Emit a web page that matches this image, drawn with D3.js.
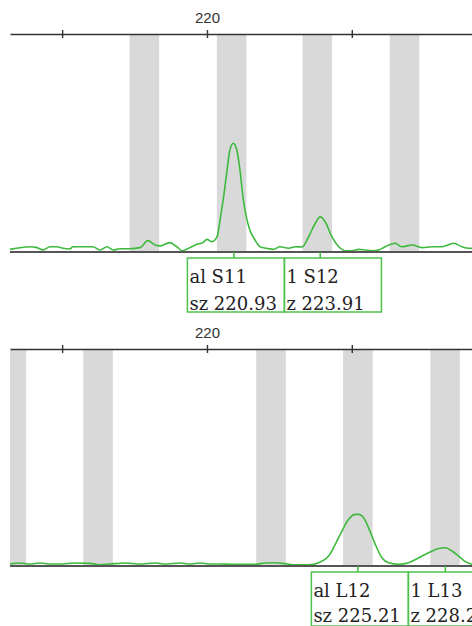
<!DOCTYPE html>
<html>
<head>
<meta charset="utf-8">
<script src="https://cdn.jsdelivr.net/npm/d3@7"></script>
<style>
  body { margin: 0; background: #fff; }
  svg { display: block; }
  .tick text { font-family: "Liberation Sans", Arial, sans-serif; }
</style>
</head>
<body>
<div id="chart"></div>
<script>
// Size axis (bp) - same for both panels
var xTicks = [215, 220, 225];
var xTickLabels = ["", "220", ""];

// Top panel: allele bins, trace, called peaks
var binsTop = [217.84, 220.85, 223.81, 226.82];
var traceTopBp = [213.20, 213.89, 214.13, 214.34, 214.58, 214.82, 215.03, 215.27, 215.37, 215.72,
  216.06, 216.31, 216.55, 216.76, 217.00, 217.34, 217.69, 217.96, 218.21, 218.38,
  218.72, 218.96, 219.14, 219.41, 219.65, 219.86, 220.00, 220.17, 220.35, 220.41,
  220.48, 220.56, 220.68, 220.79, 220.91, 221.03, 221.14, 221.25, 221.37, 221.48,
  221.66, 221.83, 222.06, 222.29, 222.52, 222.82, 223.05, 223.28, 223.51, 223.74,
  223.91, 224.08, 224.31, 224.55, 224.77, 225.01, 225.24, 225.46, 225.70, 225.93,
  226.15, 226.50, 226.73, 227.08, 227.42, 227.77, 228.11, 228.52, 228.80, 229.03, 229.15];
var traceTopRfu = [12, 24, 20, 9, 24, 24, 17, 14, 24, 24,
  24, 9, 24, 9, 15, 15, 20, 52, 32, 28,
  43, 24, 6, 20, 35, 43, 58, 47, 70, 110,
  170, 239, 361, 468, 499, 468, 376, 245, 154, 101,
  55, 24, 17, 12, 24, 17, 24, 23, 70, 132,
  161, 139, 70, 24, 6, 6, 12, 9, 6, 9,
  24, 40, 24, 32, 20, 24, 24, 40, 24, 17, 17];
var peaksTop = [220.93, 223.91];
var alleleTop = ["al S11", "1 S12"];
var sizeTop = ["sz 220.93", "z 223.91"];

// Bottom panel
var binsBottom = [213.25, 216.24, 222.21, 225.21, 228.22];
var traceBottomBp = [213.20, 213.54, 213.89, 214.24, 214.58, 214.93, 215.44, 215.96, 216.31, 216.65,
  217.17, 217.69, 218.21, 218.55, 219.07, 219.41, 219.76, 220.10, 220.45, 220.86,
  221.67, 222.01, 222.36, 222.70, 223.05, 223.51, 223.86, 224.20, 224.43, 224.66,
  224.89, 225.12, 225.24, 225.41, 225.58, 225.81, 226.04, 226.27, 226.62, 226.96,
  227.31, 227.65, 228.00, 228.23, 228.46, 228.69, 228.92, 229.15];
var traceBottomRfu = [9, 14, 9, 14, 9, 9, 14, 12, 5, 9,
  14, 9, 14, 9, 14, 9, 14, 9, 9, 8,
  8, 14, 15, 11, 5, 5, 15, 46, 100, 161,
  215, 238, 238, 222, 176, 100, 38, 15, 8, 15,
  38, 61, 81, 84, 69, 46, 20, 8];
var peaksBottom = [225.21, 228.23];
var alleleBottom = ["al L12", "1 L13"];
var sizeBottom = ["sz 225.21", "z 228.23"];

var svgWidth = 472;
var svgHeight = 626;
var binWidth = 1.02;
var boxWidth = 97;
var boxHeight = 54;

var svg = d3.select("#chart")
  .append("svg")
  .attr("width", svgWidth)
  .attr("height", svgHeight);

var xScale = d3.scaleLinear()
  .domain([213.2, 229.15])
  .range([10, 472]);

var panels = [
  { axisY: 34, baseY: 252, bins: binsTop, bp: traceTopBp, rfu: traceTopRfu,
    peaks: peaksTop, alleles: alleleTop, sizes: sizeTop, line2: 52 },
  { axisY: 349, baseY: 566, bins: binsBottom, bp: traceBottomBp, rfu: traceBottomRfu,
    peaks: peaksBottom, alleles: alleleBottom, sizes: sizeBottom, line2: 50 }
];

var green = "#3dba3d";

panels.forEach(function(p) {
  var yScale = d3.scaleLinear()
    .domain([0, 1000])
    .range([p.baseY, p.axisY]);

  var g = svg.append("g");

  // grey allele bins
  g.selectAll("rect.bin")
    .data(p.bins)
    .enter()
    .append("rect")
    .attr("class", "bin")
    .attr("x", d => Math.max(xScale(d - binWidth / 2), xScale.range()[0]))
    .attr("width", d => xScale(d + binWidth / 2) - Math.max(xScale(d - binWidth / 2), xScale.range()[0]))
    .attr("y", p.axisY + 1)
    .attr("height", p.baseY - p.axisY - 1)
    .attr("fill", "#d9d9d9");

  // trace
  var pts = p.bp.map((d, i) => [d, p.rfu[i]]);
  var line = d3.line()
    .x(d => xScale(d[0]))
    .y(d => yScale(d[1]))
    .curve(d3.curveMonotoneX);

  g.append("path")
    .datum(pts)
    .attr("d", line)
    .attr("fill", "none")
    .attr("stroke", green)
    .attr("stroke-width", 1.6);

  // baseline
  g.append("line")
    .attr("x1", xScale.range()[0])
    .attr("x2", xScale.range()[1])
    .attr("y1", yScale(0))
    .attr("y2", yScale(0))
    .attr("stroke", "#555")
    .attr("stroke-width", 2);

  // top size axis
  var axis = d3.axisTop(xScale)
    .tickValues(xTicks)
    .tickFormat((d, i) => xTickLabels[i])
    .tickSizeInner(4)
    .tickSizeOuter(0)
    .tickPadding(7);

  var ax = g.append("g")
    .attr("transform", `translate(0, ${p.axisY})`)
    .call(axis);
  ax.attr("font-family", null);
  ax.select(".domain").attr("stroke", "#333").attr("stroke-width", 1.6);
  ax.selectAll(".tick line").attr("y1", 4).attr("y2", -4).attr("stroke", "#333").attr("stroke-width", 1.4);
  ax.selectAll(".tick text")
    .attr("font-size", 15)
    .attr("fill", "#333");

  // peak label boxes
  var boxTop = p.baseY + 6;
  var firstX = xScale(p.peaks[0]) - boxWidth / 2 + 2;
  p.peaks.forEach(function(pk, i) {
    var bx = firstX + i * boxWidth;
    g.append("line")
      .attr("x1", xScale(pk)).attr("x2", xScale(pk))
      .attr("y1", p.baseY).attr("y2", boxTop)
      .attr("stroke", green).attr("stroke-width", 1.5);
    g.append("rect")
      .attr("x", bx).attr("y", boxTop)
      .attr("width", boxWidth).attr("height", boxHeight)
      .attr("fill", "none")
      .attr("stroke", "#4cc24c")
      .attr("stroke-width", 1.5);
    [p.alleles[i], p.sizes[i]].forEach(function(t, j) {
      g.append("text")
        .attr("transform", `translate(${bx + 2}, ${boxTop + 25 + j * (p.line2 - 25)})`)
        .style("font-family", "'DejaVu Serif', serif")
        .attr("font-size", 18)
        .attr("fill", "#222")
        .text(t);
    });
  });
});
</script>
</body>
</html>
